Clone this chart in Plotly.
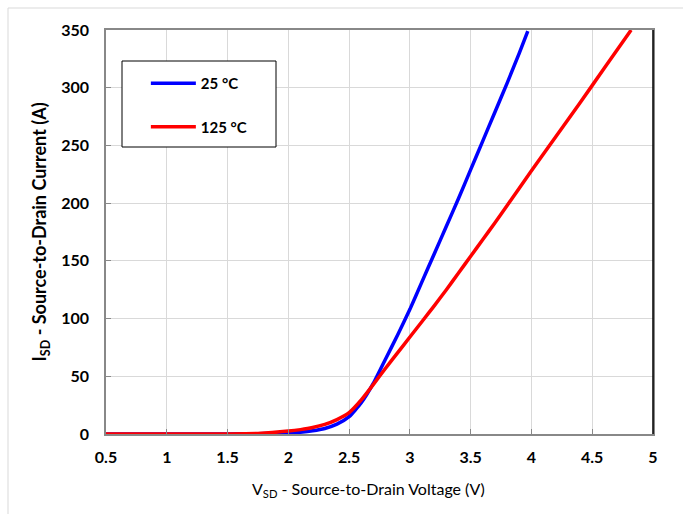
import plotly.graph_objects as go

# 25 °C curve
v_25 = [0.5, 1.0, 1.5, 1.75, 1.9, 2.0, 2.1, 2.2, 2.3, 2.4, 2.5, 2.6, 2.7, 2.8, 2.9, 3.0,
        3.1, 3.2, 3.3, 3.4, 3.5, 3.6, 3.7, 3.8, 3.9, 3.97]
i_25 = [0, 0, 0.05, 0.2, 0.5, 0.9, 1.6, 2.8, 4.8, 8.5, 15, 27, 44, 65, 86, 108,
        132, 156, 180, 204, 229, 254, 279, 304, 330, 349]

# 125 °C curve
v_125 = [0.5, 1.0, 1.5, 1.75, 2.0, 2.1, 2.2, 2.3, 2.4, 2.5, 2.6, 2.7, 2.8, 2.9, 3.0,
         3.1, 3.2, 3.3, 3.4, 3.5, 3.6, 3.7, 3.8, 4.0, 4.2, 4.4, 4.6, 4.82]
i_125 = [0, 0, 0.1, 0.5, 2.5, 3.8, 5.6, 8.3, 12.5, 18.5, 29.5, 43, 57, 70.5, 84,
         97.5, 111, 125, 139.5, 154, 168.5, 183, 198, 228, 257.5, 287, 317, 350]

x_ticks = [0.5, 1, 1.5, 2, 2.5, 3, 3.5, 4, 4.5, 5]
x_tick_labels = ["0.5", "1", "1.5", "2", "2.5", "3", "3.5", "4", "4.5", "5"]
y_ticks = [0, 50, 100, 150, 200, 250, 300, 350]

x_title = "V<sub>SD</sub> - Source-to-Drain Voltage (V)"
y_title = "I<sub>SD</sub> - Source-to-Drain Current (A)"

FONT = "Lato"

fig = go.Figure()
fig.add_trace(go.Scatter(x=v_25, y=i_25, mode="lines", name="25 °C",
                         line=dict(color="#0000FF", width=3.5, shape="spline", smoothing=0.5),
                         legendgroup="a"))
fig.add_trace(go.Scatter(x=v_125, y=i_125, mode="lines", name="125 °C",
                         line=dict(color="#FF0000", width=3.5, shape="spline", smoothing=0.5),
                         legendgroup="b"))

L, T, W, H = 106, 30, 547, 404


def px_x(p):
    return (p - L) / W


def px_y(p):
    return 1 - (p - T) / H


fig.update_layout(
    width=683, height=514,
    margin=dict(l=106, r=30, t=30, b=80),
    paper_bgcolor="white", plot_bgcolor="white",
    font=dict(family=FONT, color="black"),
    showlegend=True,
    legend=dict(
        x=0.029, y=px_y(67), xanchor="left", yanchor="top",
        bgcolor="rgba(0,0,0,0)", borderwidth=0,
        font=dict(family=FONT, size=15, weight="bold", color="black"),
        tracegroupgap=21, indentation=24, itemwidth=45,
        entrywidth=110,
    ),
    xaxis=dict(
        range=[0.5, 5], tickvals=x_ticks, ticktext=x_tick_labels,
        showgrid=True, gridcolor="#d9d9d9", gridwidth=1,
        showline=True, linecolor="#888888", linewidth=1.5, mirror=True,
        ticks="inside", ticklen=5, tickcolor="#888888",
        tickfont=dict(family=FONT, size=16, weight="bold"),
        ticklabelstandoff=8,
        zeroline=False,
    ),
    yaxis=dict(
        range=[0, 350], tickvals=y_ticks,
        showgrid=True, gridcolor="#d9d9d9", gridwidth=1,
        showline=True, linecolor="#888888", linewidth=1.5, mirror=True,
        ticks="inside", ticklen=5, tickcolor="#888888",
        tickfont=dict(family=FONT, size=16, weight="bold"),
        ticklabelstandoff=12,
        zeroline=False,
        title=dict(text=y_title,
                   font=dict(family=FONT, size=18, weight="bold"), standoff=10),
    ),
    annotations=[
        dict(text=x_title, xref="paper", yref="paper", x=px_x(368), y=px_y(490),
             xanchor="center", yanchor="middle", showarrow=False,
             font=dict(family=FONT, size=16, color="black")),
    ],
    shapes=[
        # right edge of plot box in black
        dict(type="line", xref="paper", yref="paper", x0=1, x1=1, y0=0, y1=1,
             line=dict(color="black", width=1.5)),
        # legend box
        dict(type="rect", xref="paper", yref="paper",
             x0=px_x(122), x1=px_x(276), y0=px_y(147), y1=px_y(61),
             line=dict(color="black", width=1), fillcolor="white", layer="above"),
        # outer frame (left and top visible)
        dict(type="rect", xref="paper", yref="paper",
             x0=px_x(8), x1=1.1, y0=-0.3, y1=px_y(8),
             line=dict(color="#d9d9d9", width=1), layer="below"),
    ],
)

fig.write_html("out.html")
